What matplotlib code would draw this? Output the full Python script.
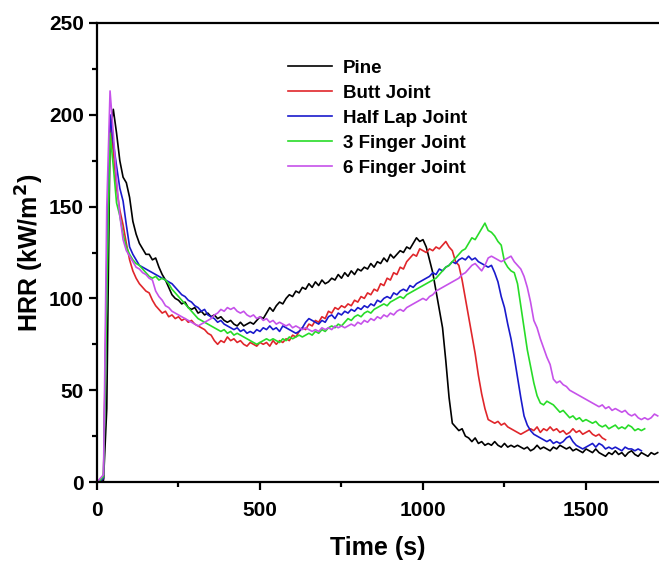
import numpy as np
import matplotlib
matplotlib.use("Agg")
import matplotlib.pyplot as plt

# HRR curves, one value every 10 s
STEP = 10
pine = [0, 0.5, 1, 40, 190, 203, 190, 175, 166, 163, 155, 142, 135, 130, 127, 124, 124, 121, 122, 117,
        113, 110, 106, 102, 100, 99, 97, 98, 95, 94, 95, 92, 93, 91, 92, 90, 91, 89, 90, 88,
        87, 88, 86, 85, 87, 85, 86, 87, 86, 88, 90, 89, 92, 95, 93, 96, 98, 97, 100, 102,
        101, 104, 103, 106, 105, 108, 106, 109, 107, 110, 108, 109, 111, 110, 113, 111, 114, 112, 115, 113,
        116, 115, 117, 116, 119, 117, 120, 119, 122, 120, 124, 122, 124, 126, 125, 128, 127, 130, 133, 131,
        132, 128, 121, 114, 104, 94, 84, 66, 46, 32, 30, 28, 29, 25, 24, 22, 24, 21, 22, 20,
        21, 20, 22, 20, 19, 21, 19, 20, 19, 20, 19, 18, 19, 17, 18, 20, 18, 19, 18, 17,
        19, 18, 20, 19, 18, 19, 17, 18, 17, 16, 18, 17, 16, 18, 16, 15, 14, 16, 15, 17,
        15, 16, 14, 16, 17, 15, 14, 16, 15, 14, 16, 15, 16]
butt = [0, 0.5, 2, 120, 194, 180, 160, 148, 140, 130, 121, 115, 111, 108, 106, 104, 103, 99, 96, 94,
        92, 93, 90, 91, 89, 90, 88, 89, 87, 88, 86, 85, 84, 83, 81, 80, 77, 75, 77, 76,
        79, 77, 78, 76, 77, 75, 74, 76, 75, 74, 76, 75, 76, 74, 77, 75, 77, 76, 78, 77,
        80, 79, 82, 84, 83, 86, 85, 88, 87, 90, 89, 93, 92, 95, 94, 96, 95, 97, 96, 99,
        98, 101, 100, 103, 102, 105, 104, 108, 107, 111, 110, 114, 113, 117, 116, 120, 122, 124, 123, 127,
        126, 125, 127, 126, 128, 127, 129, 131, 128, 126, 120, 118, 110, 100, 90, 80, 70, 58, 48, 40,
        34, 33, 32, 33, 31, 32, 30, 29, 28, 27, 26, 27, 28, 29, 28, 30, 27, 29, 28, 30,
        28, 29, 27, 28, 26, 27, 29, 27, 28, 26, 27, 28, 26, 25, 26, 24, 23]
half_lap = [0, 0.5, 2, 110, 200, 185, 172, 160, 153, 140, 128, 124, 121, 118, 117, 116, 115, 114, 113, 112,
            111, 110, 109, 108, 106, 104, 102, 101, 99, 98, 96, 95, 93, 94, 91, 90, 89, 87, 88, 86,
            85, 84, 83, 84, 82, 83, 81, 82, 81, 83, 82, 84, 83, 85, 83, 84, 82, 85, 84, 83,
            82, 81, 82, 84, 87, 89, 88, 87, 86, 88, 87, 90, 91, 89, 92, 91, 93, 92, 94, 93,
            95, 94, 96, 95, 97, 96, 99, 98, 100, 101, 100, 103, 102, 104, 105, 104, 107, 106, 108, 109,
            110, 111, 112, 114, 113, 116, 115, 117, 118, 120, 119, 121, 122, 121, 123, 121, 122, 120, 119, 118,
            117, 118, 114, 109, 101, 95, 86, 78, 68, 57, 46, 36, 31, 28, 26, 25, 24, 23, 22, 23,
            21, 22, 21, 22, 24, 25, 22, 20, 19, 18, 19, 20, 21, 19, 21, 20, 18, 19, 18, 19,
            18, 17, 19, 18, 18, 17, 18, 17]
finger3 = [0, 1, 3, 100, 190, 172, 152, 145, 135, 128, 124, 121, 119, 118, 116, 114, 112, 111, 112, 110,
           111, 110, 108, 105, 103, 101, 99, 97, 95, 93, 91, 89, 88, 87, 86, 85, 84, 83, 82, 83,
           81, 82, 80, 81, 80, 79, 78, 77, 76, 75, 76, 77, 78, 77, 78, 77, 76, 78, 77, 79,
           78, 79, 80, 79, 80, 81, 80, 82, 81, 83, 82, 84, 85, 84, 86, 85, 87, 89, 88, 90,
           91, 90, 92, 93, 92, 94, 95, 96, 97, 96, 98, 99, 100, 101, 100, 102, 103, 104, 105, 106,
           107, 108, 109, 110, 111, 113, 115, 117, 118, 120, 122, 124, 126, 127, 130, 133, 132, 135, 138, 141,
           137, 136, 134, 131, 129, 120, 117, 115, 114, 108, 96, 84, 72, 63, 54, 47, 43, 42, 44, 43,
           42, 40, 38, 39, 37, 35, 36, 34, 35, 33, 34, 33, 32, 33, 31, 30, 31, 29, 30, 31,
           29, 30, 29, 31, 30, 28, 29, 28, 29]
finger6 = [0, 2, 4, 150, 213, 190, 165, 145, 132, 126, 123, 120, 117, 116, 114, 113, 111, 110, 104, 101,
           99, 96, 95, 93, 92, 91, 90, 89, 88, 87, 86, 85, 86, 87, 88, 89, 91, 92, 94, 93,
           95, 94, 95, 93, 92, 93, 91, 90, 91, 89, 90, 88, 89, 87, 88, 86, 87, 86, 85, 86,
           84, 85, 84, 83, 84, 83, 82, 83, 82, 84, 83, 84, 83, 85, 84, 85, 84, 85, 86, 85,
           87, 86, 88, 87, 89, 88, 90, 89, 91, 90, 92, 91, 93, 94, 93, 95, 96, 97, 98, 99,
           100, 99, 101, 102, 104, 105, 106, 107, 108, 109, 110, 111, 113, 114, 116, 118, 119, 117, 115, 118,
           122, 123, 122, 121, 120, 121, 122, 123, 120, 118, 116, 112, 106, 98, 88, 84, 78, 73, 68, 64,
           56, 54, 55, 53, 52, 50, 49, 48, 47, 46, 45, 44, 43, 42, 41, 42, 40, 41, 39, 40,
           39, 38, 39, 37, 36, 37, 35, 34, 35, 34, 35, 37, 36]

series = [("Pine", pine, "black"),
          ("Butt Joint", butt, "#e0262b"),
          ("Half Lap Joint", half_lap, "#1a1acc"),
          ("3 Finger Joint", finger3, "#28dc28"),
          ("6 Finger Joint", finger6, "#c652ea")]

plt.rcParams["font.family"] = ["Liberation Sans", "DejaVu Sans"]
plt.rcParams["font.weight"] = "bold"

fig = plt.figure(figsize=(6.59, 5.63), dpi=100)
ax = fig.add_axes([97 / 659, 81 / 563, 562 / 659, 459 / 563])

for name, vals, col in series:
    t = np.arange(len(vals)) * STEP
    ax.plot(t, vals, color=col, lw=1.2, label=name)

ax.set_xlim(0, 1724)
ax.set_ylim(0, 250)
ax.set_xticks([0, 500, 1000, 1500])
ax.set_xticks([250, 750, 1250], minor=True)
ax.set_yticks([0, 50, 100, 150, 200, 250])
ax.set_yticks([25, 75, 125, 175, 225], minor=True)
ax.spines["right"].set_visible(False)
for s in ("left", "bottom", "top"):
    ax.spines[s].set_linewidth(1.6)
ax.tick_params(which="major", direction="out", length=6, width=1.6, labelsize=15)
ax.tick_params(which="minor", direction="out", length=3.5, width=1.6)
ax.tick_params(axis="x", which="major", pad=8)
ax.tick_params(top=False, right=False, which="both")
for lb in ax.get_xticklabels() + ax.get_yticklabels():
    lb.set_fontweight("bold")

ax.set_xlabel("Time (s)", fontsize=18, fontweight="bold", labelpad=11)
ax.set_ylabel("HRR (kW/m$^\\mathbf{2}$)", fontsize=18, fontweight="bold", labelpad=2)

ax.legend(loc="upper left", bbox_to_anchor=(282 / 659, 1 - 54 / 563), bbox_transform=fig.transFigure,
          frameon=False, handlelength=2.35, handletextpad=0.6,
          labelspacing=0.42, borderaxespad=0, borderpad=0.3,
          prop={"weight": "bold", "size": 13.5})

fig.savefig("out.png", dpi=100)
